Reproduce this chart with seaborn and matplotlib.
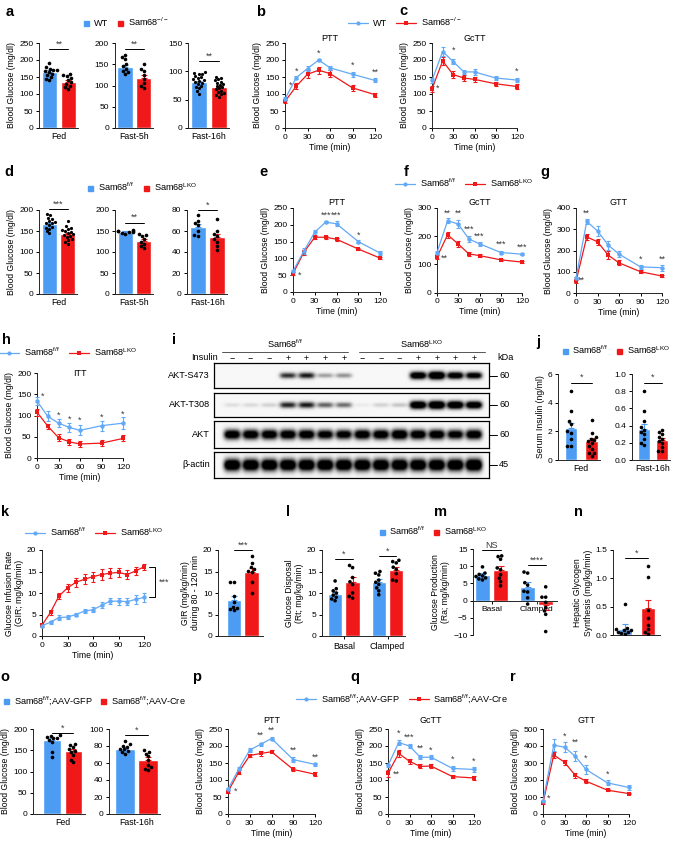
"""Sam68 glucose metabolism figure: bar, time-course and blot panels."""

import numpy as np
import pandas as pd
import matplotlib

matplotlib.use("Agg")
import matplotlib.pyplot as plt
import seaborn as sns
from matplotlib.lines import Line2D

BLUE = "#4d9cf3"
BLUE_LINE = "#62a9f7"
RED = "#f01818"
STAR = "#3a3a3a"

TIMES = [0, 15, 30, 45, 60, 90, 120]
K_TIMES = [0, 10, 20, 30, 40, 50, 60, 70, 80, 90, 100, 110, 120]

# ---- a: Sam68-/- bars
a_fed_wt = [192, 178, 175, 172, 170, 168, 165, 160, 155, 150, 145, 140]
a_fed_ko = [158, 156, 152, 148, 142, 135, 130, 125, 120, 115]
a_fed_mean, a_fed_sem = [165, 135], [6, 5]
a_f5_wt = [172, 168, 162, 150, 145, 140, 135, 132, 128]
a_f5_ko = [150, 140, 135, 125, 115, 105, 100, 95]
a_f5_mean, a_f5_sem = [143, 117], [6, 8]
a_f16_wt = [98, 97, 96, 95, 92, 90, 88, 86, 85, 83, 82, 80, 78, 75, 72, 70, 65, 60]
a_f16_ko = [90, 88, 86, 84, 82, 80, 78, 76, 74, 72, 70, 68, 66, 64, 62, 60, 58, 55]
a_f16_mean, a_f16_sem = [81, 72], [2.5, 2.2]

# ---- b, c: Sam68-/- tolerance tests
b_wt = [85, 148, 175, 200, 177, 158, 140]
b_wt_err = [5, 5, 6, 4, 5, 8, 6]
b_ko = [78, 123, 158, 170, 160, 118, 98]
b_ko_err = [5, 8, 12, 10, 10, 8, 6]
b_stars = [(8, 125, "*"), (15, 168, "*"), (45, 220, "*"), (90, 185, "*"), (120, 163, "**")]
c_wt = [140, 225, 195, 165, 165, 147, 141]
c_wt_err = [8, 12, 8, 6, 10, 6, 5]
c_ko = [115, 197, 157, 147, 143, 130, 122]
c_ko_err = [10, 12, 10, 8, 8, 6, 6]
c_stars = [(8, 118, "*"), (30, 228, "*"), (120, 166, "*")]

# ---- d: LKO bars
d_fed_wt = [190, 188, 182, 178, 175, 172, 170, 168, 165, 160, 158, 155, 150, 145]
d_fed_ko = [175, 162, 158, 155, 152, 150, 148, 145, 142, 140, 138, 135, 130, 128, 125, 120]
d_fed_mean, d_fed_sem = [166, 142], [4, 3.5]
d_f5_wt = [152, 151, 150, 149, 148, 147, 146, 144]
d_f5_ko = [142, 140, 138, 130, 125, 120, 115, 110]
d_f5_mean, d_f5_sem = [148, 126], [1.5, 4]
d_f16_wt = [75, 70, 68, 66, 60, 56, 55]
d_f16_ko = [71, 60, 57, 55, 52, 50, 46, 42]
d_f16_mean, d_f16_sem = [64, 54], [3, 3]

# ---- e, f, g: LKO tolerance tests
e_wt = [62, 122, 178, 208, 203, 150, 116]
e_wt_err = [4, 8, 8, 4, 8, 5, 5]
e_ko = [55, 118, 163, 163, 157, 128, 101]
e_ko_err = [4, 8, 5, 5, 5, 4, 3]
e_stars = [(9, 50, "*"), (45, 227, "***"), (60, 227, "***"), (90, 170, "*")]
f_wt = [142, 255, 243, 190, 173, 142, 136]
f_wt_err = [5, 8, 15, 10, 8, 5, 4]
f_ko = [126, 205, 172, 137, 131, 116, 108]
f_ko_err = [8, 10, 10, 8, 5, 4, 4]
f_stars = [(11, 122, "**"), (15, 280, "**"), (30, 280, "**"), (45, 223, "***"),
           (60, 199, "***"), (90, 170, "***"), (120, 161, "***")]
g_wt = [70, 337, 292, 225, 183, 123, 119]
g_wt_err = [6, 12, 25, 22, 15, 10, 15]
g_ko = [55, 264, 241, 178, 142, 100, 80]
g_ko_err = [6, 15, 15, 18, 12, 6, 6]
g_stars = [(8, 58, "**"), (15, 376, "**"), (90, 158, "*"), (120, 158, "**")]

# ---- h: ITT
h_wt = [134, 98, 82, 72, 65, 76, 82]
h_wt_err = [10, 12, 10, 10, 12, 12, 14]
h_ko = [108, 75, 48, 38, 33, 35, 46]
h_ko_err = [8, 6, 8, 7, 7, 7, 7]
h_stars = [(8, 146, "*"), (30, 101, "*"), (45, 91, "*"), (60, 88, "*"), (90, 96, "*"), (120, 104, "*")]

# ---- i: western blot band intensities (14 lanes)
insulin = ["−", "−", "−", "+", "+", "+", "+", "−", "−", "−", "+", "+", "+", "+"]
band_s473 = [0.0, 0.0, 0.0, 0.8, 0.9, 0.35, 0.4, 0.0, 0.0, 0.0, 1.4, 1.6, 1.3, 1.2]
band_t308 = [0.1, 0.12, 0.15, 0.85, 0.9, 0.6, 0.55, 0.05, 0.15, 0.2, 1.5, 1.6, 1.5, 1.4]
band_akt = [1.3, 1.3, 1.3, 1.3, 1.3, 1.2, 1.2, 1.3, 1.3, 1.4, 1.3, 1.3, 1.2, 1.3]
band_actin = [1.5, 1.5, 1.5, 1.5, 1.5, 1.5, 1.5, 1.5, 1.5, 1.5, 1.5, 1.5, 1.5, 1.6]
blot_labels = ["AKT-S473", "AKT-T308", "AKT", "β-actin"]
blot_kda = ["60", "60", "60", "45"]

# ---- j: serum insulin
j_fed_wt = [4.8, 3.4, 2.7, 2.5, 2.0, 1.9, 1.5, 1.0, 1.0]
j_fed_ko = [2.8, 1.9, 1.6, 1.5, 1.4, 1.3, 1.2, 1.0, 0.8, 0.5, 0.5, 0.3]
j_fed_mean, j_fed_sem = [2.2, 1.3], [0.4, 0.25]
j_f16_wt = [0.80, 0.57, 0.45, 0.38, 0.35, 0.32, 0.30, 0.25, 0.20, 0.18]
j_f16_ko = [0.35, 0.32, 0.30, 0.27, 0.25, 0.22, 0.20, 0.15, 0.10, 0.10]
j_f16_mean, j_f16_sem = [0.36, 0.23], [0.06, 0.03]

# ---- k: clamp GIR
k_wt = [2.4, 3.2, 4.3, 4.4, 5.0, 5.8, 6.1, 7.1, 8.1, 8.1, 8.0, 8.5, 9.0]
k_wt_err = [0.3, 0.3, 0.6, 0.4, 0.3, 0.5, 0.6, 0.7, 0.7, 0.8, 0.9, 1.0, 1.0]
k_ko = [2.5, 5.5, 9.3, 11.2, 12.5, 13.2, 13.8, 14.3, 14.6, 14.8, 14.3, 15.1, 16.1]
k_ko_err = [0.3, 0.5, 0.8, 0.9, 1.1, 1.2, 1.2, 1.3, 1.2, 1.0, 1.0, 0.9, 0.7]
k2_wt = [12.5, 12.5, 9.3, 8.0, 6.8, 6.4, 6.2, 6.0]
k2_ko = [18.6, 17.0, 16.0, 15.5, 15.2, 14.8, 12.6, 10.1]
k2_mean, k2_sem = [8.3, 15.0], [0.9, 0.8]

# ---- l, m: disposal / production (Basal, Clamped)
conditions = ["Basal", "Clamped"]
l_basal_wt = [12.8, 11.0, 10.5, 10.0, 9.5, 9.0, 8.6, 8.2]
l_basal_ko = [16.4, 15.9, 13.6, 12.6, 12.0, 10.0, 9.2, 8.8]
l_clamp_wt = [15.0, 14.6, 14.2, 13.0, 12.5, 12.0, 11.2, 10.5, 9.6]
l_clamp_ko = [17.6, 17.3, 17.0, 16.0, 15.5, 14.5, 13.0, 12.8]
l_mean = [9.7, 12.5, 12.5, 15.3]
l_sem = [0.6, 1.2, 0.7, 0.8]
m_basal_wt = [9.8, 8.0, 7.6, 7.2, 7.0, 6.6, 6.3, 6.0]
m_basal_ko = [13.0, 12.8, 12.0, 9.5, 9.0, 7.5, 6.5, 5.5, 4.3]
m_clamp_wt = [8.3, 8.0, 5.2, 4.5, 2.7, 2.5, 0.8, -1.0]
m_clamp_ko = [4.0, 1.0, 1.0, -0.5, -2.0, -3.0, -4.0, -9.0]
m_mean = [7.4, 9.0, 4.0, -1.3]
m_sem = [0.5, 1.2, 1.3, 1.5]

# ---- n: hepatic glycogen synthesis
n_wt = [0.55, 0.12, 0.10, 0.09, 0.08, 0.06, 0.05, 0.03, 0.02]
n_ko = [1.22, 1.02, 0.45, 0.30, 0.18, 0.10, 0.05, 0.02]
n_mean, n_sem = [0.10, 0.47], [0.09, 0.15]

# ---- o: AAV bars
o_fed_wt = [186, 184, 182, 180, 178, 175, 170, 145, 135]
o_fed_ko = [165, 162, 158, 152, 148, 145, 138, 128, 122]
o_fed_mean, o_fed_sem = [173, 148], [7, 6]
o_f16_wt = [86, 82, 80, 79, 77, 76, 74, 73, 71]
o_f16_ko = [75, 73, 71, 68, 63, 58, 55, 53, 52]
o_f16_mean, o_f16_sem = [77, 64], [1.6, 3.2]

# ---- p, q, r: AAV tolerance tests
p_wt = [73, 133, 188, 205, 222, 160, 146]
p_wt_err = [4, 5, 6, 5, 5, 8, 5]
p_ko = [66, 124, 172, 178, 183, 131, 117]
p_ko_err = [5, 5, 5, 6, 5, 5, 6]
p_stars = [(10, 68, "*"), (45, 233, "**"), (60, 245, "**"), (90, 188, "**"), (120, 167, "**")]
q_wt = [143, 210, 200, 167, 167, 134, 131]
q_wt_err = [5, 8, 6, 6, 6, 8, 8]
q_ko = [120, 178, 155, 140, 141, 110, 106]
q_ko_err = [10, 10, 8, 6, 6, 5, 5]
q_stars = [(12, 118, "**"), (15, 238, "*"), (30, 225, "***"), (45, 194, "**"),
           (60, 187, "*"), (90, 161, "*"), (120, 156, "*")]
r_wt = [75, 405, 393, 340, 262, 183, 156]
r_wt_err = [10, 35, 30, 30, 25, 15, 12]
r_ko = [65, 347, 305, 227, 193, 140, 120]
r_ko_err = [8, 20, 15, 15, 10, 6, 5]
r_stars = [(8, 90, "*"), (30, 456, "*"), (45, 421, "**"), (60, 327, "*"), (90, 234, "*")]

LBL_KO = "Sam68$^{-/-}$"
LBL_FF = "Sam68$^{\\mathrm{f/f}}$"
LBL_LKO = "Sam68$^{\\mathrm{LKO}}$"
LBL_GFP = "Sam68$^{\\mathrm{f/f}}$;AAV-GFP"
LBL_CRE = "Sam68$^{\\mathrm{f/f}}$;AAV-Cre"
BG = "Blood Glucose (mg/dl)"

sns.set_theme(style="ticks")
plt.rcParams["font.family"] = ["Liberation Sans", "DejaVu Sans"]
plt.rcParams.update({
    "mathtext.fontset": "custom",
    "mathtext.rm": "Liberation Sans",
    "mathtext.it": "Liberation Sans:italic",
    "mathtext.bf": "Liberation Sans:bold",
    "axes.linewidth": 0.7,
    "xtick.major.width": 0.7,
    "ytick.major.width": 0.7,
    "xtick.major.size": 2.5,
    "ytick.major.size": 2.5,
    "xtick.major.pad": 1.5,
    "ytick.major.pad": 1.5,
    "xtick.labelsize": 6,
    "ytick.labelsize": 6,
    "axes.labelsize": 6.2,
    "axes.labelpad": 2,
    "text.color": "black",
    "axes.labelcolor": "black",
    "xtick.color": "black",
    "ytick.color": "black",
})

W, H = 675, 842
fig = plt.figure(figsize=(W / 100, H / 100), dpi=100)


def add_ax(left, top, right, bottom):
    return fig.add_axes([left / W, 1 - bottom / H, (right - left) / W, (bottom - top) / H])


def ftext(x, y, s, **kw):
    fig.text(x / W, 1 - y / H, s, **kw)


def sig_line(ax, x0, x1, y, text):
    ax.plot([x0, x1], [y, y], color="black", lw=0.7, clip_on=False)
    ax.annotate(text, (0.5 * (x0 + x1), y), xytext=(0, 0.5), textcoords="offset points",
                ha="center", va="bottom", fontsize=6.5, color=STAR, annotation_clip=False)


def add_sem(ax, xs, means, sems, colors):
    for x, m, s, c in zip(xs, means, sems, colors):
        yerr = [[0], [s]] if m >= 0 else [[s], [0]]
        ax.errorbar([x], [m], yerr=yerr, fmt="none", ecolor=c, elinewidth=0.8,
                    capsize=2, capthick=0.8, zorder=3)


def bar_panel(ax, wt, ko, means, sems, ylim, yticks, xlabel, sig, sig_y,
              ylabel=None, xlim=(-0.55, 1.5), width=0.82, dot=2.6):
    groups = ["WT", "KO"]
    bars = pd.DataFrame({"group": groups, "mean": means})
    sns.barplot(data=bars, x="group", y="mean", hue="group", order=groups,
                palette=[BLUE, RED], saturation=1, width=width, errorbar=None,
                legend=False, ax=ax)
    add_sem(ax, [0, 1], means, sems, [BLUE, RED])
    pts = pd.DataFrame({"group": ["WT"] * len(wt) + ["KO"] * len(ko), "value": wt + ko})
    sns.swarmplot(data=pts, x="group", y="value", order=groups, color="black",
                  size=dot, ax=ax, zorder=4)
    if sig:
        sig_line(ax, 0, 1, sig_y, sig)
    ax.set_xlim(*xlim)
    ax.set_ylim(*ylim)
    ax.set_yticks(yticks)
    if xlabel:
        ax.set_xticks([0.5])
        ax.set_xticklabels([xlabel], fontsize=6.3)
    else:
        ax.set_xticks([])
    ax.tick_params(axis="x", length=0, pad=3)
    ax.set_xlabel("")
    ax.set_ylabel(ylabel or "")
    sns.despine(ax=ax)


def grouped_panel(ax, groups_pts, means, sems, ylim, yticks, ylabel, sigs):
    genos = ["WT", "KO"]
    rows = []
    for ci, cond in enumerate(conditions):
        for gi, geno in enumerate(genos):
            rows.append({"cond": cond, "geno": geno, "mean": means[ci * 2 + gi]})
    bars = pd.DataFrame(rows)
    sns.barplot(data=bars, x="cond", y="mean", hue="geno", order=conditions, hue_order=genos,
                palette=[BLUE, RED], saturation=1, width=0.8, gap=0.18, errorbar=None,
                legend=False, ax=ax)
    xs = [-0.2, 0.2, 0.8, 1.2]
    add_sem(ax, xs, means, sems, [BLUE, RED, BLUE, RED])
    prow = []
    for (cond, geno), vals in zip([(c, g) for c in conditions for g in genos], groups_pts):
        prow += [{"cond": cond, "geno": geno, "value": v} for v in vals]
    pts = pd.DataFrame(prow)
    sns.swarmplot(data=pts, x="cond", y="value", hue="geno", order=conditions, hue_order=genos,
                  dodge=True, palette={"WT": "black", "KO": "black"}, size=2.6,
                  legend=False, ax=ax, zorder=4)
    for ci, (text, y) in enumerate(sigs):
        sig_line(ax, ci - 0.2, ci + 0.2, y, text)
    ax.set_ylim(*ylim)
    ax.set_yticks(yticks)
    ax.set_xlabel("")
    ax.set_ylabel(ylabel)
    ax.set_xticks([0, 1])
    ax.set_xticklabels(conditions, fontsize=6.3)
    sns.despine(ax=ax)


def time_panel(ax, times, wt, wt_err, ko, ko_err, ylim, yticks, title, stars,
               title_y=1.07, ylabel=BG, xticks=(0, 30, 60, 90, 120)):
    for vals, errs, color, marker in ((ko, ko_err, RED, "s"), (wt, wt_err, BLUE_LINE, "o")):
        ax.errorbar(times, vals, yerr=errs, fmt="none", ecolor=color, elinewidth=0.8,
                    capsize=1.6, capthick=0.8, clip_on=False, zorder=3)
        sns.lineplot(x=times, y=vals, color=color, marker=marker, markersize=3.2,
                     markeredgewidth=0, linewidth=0.9, ax=ax, clip_on=False, zorder=4)
    for t, y, s in stars:
        ax.text(t, y, s, ha="center", va="center", fontsize=6.5, color=STAR)
    if title:
        ax.text(0.5, title_y, title, transform=ax.transAxes, ha="center", va="center", fontsize=6.5)
    ax.set_xlim(times[0], times[-1])
    ax.set_ylim(*ylim)
    ax.set_yticks(yticks)
    ax.set_xticks(list(xticks))
    ax.set_xlabel("Time (min)", labelpad=1.5)
    ax.set_ylabel(ylabel)
    sns.despine(ax=ax)


def square_legend(x, y, labels, spacing=1.0):
    handles = [Line2D([], [], marker="s", linestyle="none", color=c, markersize=3.6) for c in (BLUE, RED)]
    fig.legend(handles, labels, loc="center", bbox_to_anchor=(x / W, 1 - y / H), ncol=2,
               frameon=False, fontsize=6.6, handlelength=0.7, handletextpad=0.5,
               columnspacing=spacing, borderpad=0, borderaxespad=0)


def line_legend(x, y, labels, spacing=1.0):
    handles = [Line2D([], [], marker="o", color=BLUE_LINE, markersize=3, lw=0.9, markeredgewidth=0),
               Line2D([], [], marker="s", color=RED, markersize=3, lw=0.9, markeredgewidth=0)]
    fig.legend(handles, labels, loc="center", bbox_to_anchor=(x / W, 1 - y / H), ncol=2,
               frameon=False, fontsize=6.6, handlelength=2.2, handletextpad=0.5,
               columnspacing=spacing, borderpad=0, borderaxespad=0)


def blot_row(ax, amps, thick):
    xs = np.linspace(-0.97, 13.8, 700)
    ys = np.linspace(-1, 1, 90)
    X, Y = np.meshgrid(xs, ys)
    img = np.full(X.shape, 0.03)
    for i, a in enumerate(amps):
        th = thick * (0.55 + 0.35 * min(a, 1.6))
        img += a * np.exp(-((X - i) / 0.44) ** 4) * np.exp(-(Y / th) ** 2)
    ax.imshow(np.clip(img, 0, 1), cmap="gray_r", vmin=0, vmax=1, aspect="auto",
              extent=(-0.97, 13.8, -1, 1), interpolation="bilinear")
    ax.set_xticks([])
    ax.set_yticks([])
    for sp in ax.spines.values():
        sp.set_visible(True)
        sp.set_linewidth(0.9)
        sp.set_color("black")


# ---------------- Row 1
ax = add_ax(39, 43, 78, 128)
bar_panel(ax, a_fed_wt, a_fed_ko, a_fed_mean, a_fed_sem, (0, 250), range(0, 251, 50), "Fed", "**", 232, ylabel=BG)
ax = add_ax(114.5, 43, 153, 128)
bar_panel(ax, a_f5_wt, a_f5_ko, a_f5_mean, a_f5_sem, (0, 200), range(0, 201, 50), "Fast-5h", "**", 186)
ax = add_ax(188, 43, 229, 128)
bar_panel(ax, a_f16_wt, a_f16_ko, a_f16_mean, a_f16_sem, (0, 150), range(0, 151, 50), "Fast-16h", "**", 118, dot=2.3)
ax = add_ax(285, 43, 375, 128)
time_panel(ax, TIMES, b_wt, b_wt_err, b_ko, b_ko_err, (0, 250), range(0, 251, 50), "PTT", b_stars, title_y=1.05)
ax = add_ax(432, 43, 517, 128)
time_panel(ax, TIMES, c_wt, c_wt_err, c_ko, c_ko_err, (0, 250), range(0, 251, 50), "GcTT", c_stars, title_y=1.05)
square_legend(126, 22, ["WT", LBL_KO])
line_legend(405, 22, ["WT", LBL_KO])

# ---------------- Row 2
ax = add_ax(39, 210, 77, 294)
bar_panel(ax, d_fed_wt, d_fed_ko, d_fed_mean, d_fed_sem, (0, 200), range(0, 201, 50), "Fed", "***", 202, ylabel=BG, dot=2.3)
ax = add_ax(115, 210, 153, 294)
bar_panel(ax, d_f5_wt, d_f5_ko, d_f5_mean, d_f5_sem, (0, 200), range(0, 201, 50), "Fast-5h", "**", 170)
ax = add_ax(187, 210, 227, 294)
bar_panel(ax, d_f16_wt, d_f16_ko, d_f16_mean, d_f16_sem, (0, 80), range(0, 81, 20), "Fast-16h", "*", 80)
ax = add_ax(293, 208, 380, 292)
time_panel(ax, TIMES, e_wt, e_wt_err, e_ko, e_ko_err, (0, 250), range(0, 251, 50), "PTT", e_stars)
ax = add_ax(437, 208, 522, 292.5)
time_panel(ax, TIMES, f_wt, f_wt_err, f_ko, f_ko_err, (0, 300), range(0, 301, 100), "GcTT", f_stars)
ax = add_ax(576, 208, 662, 293)
time_panel(ax, TIMES, g_wt, g_wt_err, g_ko, g_ko_err, (0, 400), range(0, 401, 100), "GTT", g_stars)
square_legend(142, 187, [LBL_FF, LBL_LKO])
line_legend(464, 183, [LBL_FF, LBL_LKO])

# ---------------- Row 3
ax = add_ax(37, 373, 123, 458)
time_panel(ax, TIMES, h_wt, h_wt_err, h_ko, h_ko_err, (0, 200), range(0, 201, 50), "ITT", h_stars, title_y=1.0)
line_legend(68, 352, [LBL_FF, LBL_LKO])

blot_boxes = [(363, 388), (393, 417), (421, 448), (452, 478)]
blot_data = [band_s473, band_t308, band_akt, band_actin]
blot_thick = [0.28, 0.3, 0.36, 0.42]
for (top, bot), amps, th, name, kda in zip(blot_boxes, blot_data, blot_thick, blot_labels, blot_kda):
    bax = add_ax(214, top, 489, bot)
    blot_row(bax, amps, th)
    mid = 0.5 * (top + bot)
    ftext(210, mid, name, ha="right", va="center", fontsize=6.6)
    fig.add_artist(Line2D([489 / W, 497 / W], [1 - mid / H] * 2, color="black", lw=0.7))
    ftext(499, mid, kda, ha="left", va="center", fontsize=6.6)
lane_x = np.linspace(232, 474, 14)
for lx, sign in zip(lane_x, insulin):
    ftext(lx, 358, sign, ha="center", va="center", fontsize=6.5)
ftext(218, 358, "Insulin", ha="right", va="center", fontsize=6.6)
ftext(497, 357, "kDa", ha="left", va="center", fontsize=6.6)
ftext(285, 344, LBL_FF, ha="center", va="center", fontsize=6.6)
ftext(422, 344, LBL_LKO, ha="center", va="center", fontsize=6.6)
fig.add_artist(Line2D([222 / W, 348 / W], [1 - 352 / H] * 2, color="#555555", lw=0.7))
fig.add_artist(Line2D([359 / W, 485 / W], [1 - 352 / H] * 2, color="#555555", lw=0.7))

ax = add_ax(558, 374, 600, 460)
bar_panel(ax, j_fed_wt, j_fed_ko, j_fed_mean, j_fed_sem, (0, 6), range(0, 7, 2), "Fed", "*", 5.4,
          ylabel="Serum Insulin (ng/ml)", xlim=(-0.62, 1.4), width=0.6)
ax = add_ax(632, 374, 670, 460)
bar_panel(ax, j_f16_wt, j_f16_ko, j_f16_mean, j_f16_sem, (0, 1.0), np.arange(0, 1.01, 0.2), "Fast-16h", "*", 0.9,
          xlim=(-0.67, 1.44), width=0.62)
ax.set_yticklabels([f"{v:.1f}" for v in np.arange(0, 1.01, 0.2)])
square_legend(616, 350, [LBL_FF, LBL_LKO], spacing=0.8)

# ---------------- Row 4
ax = add_ax(42, 550, 144, 636)
time_panel(ax, K_TIMES, k_wt, k_wt_err, k_ko, k_ko_err, (0, 20), range(0, 21, 5), None, [],
           ylabel="Glucose Infusion Rate\n(GIR; mg/kg/min)")
ax.plot([126, 133, 133, 126], [16.1, 16.1, 9.0, 9.0], color="black", lw=0.7, clip_on=False)
ax.text(137, 12.6, "***", ha="left", va="center", fontsize=6.5, color=STAR)
line_legend(94, 532, [LBL_FF, LBL_LKO])

ax = add_ax(218, 550, 263, 636)
bar_panel(ax, k2_wt, k2_ko, k2_mean, k2_sem, (0, 20), range(0, 21, 5), None, "***", 20,
          ylabel="GIR (mg/kg/min)\nduring 80 - 120 min", xlim=(-0.9, 1.65), width=0.8)

ax = add_ax(322, 550, 405, 636)
grouped_panel(ax, [l_basal_wt, l_basal_ko, l_clamp_wt, l_clamp_ko], l_mean, l_sem, (0, 20), range(0, 21, 5),
              "Glucose Disposal\n(Rt; mg/kg/min)", [("*", 17.8), ("*", 18.6)])
ax.set_xlim(-0.5, 1.4)

ax = add_ax(473, 549, 557, 635)
grouped_panel(ax, [m_basal_wt, m_basal_ko, m_clamp_wt, m_clamp_ko], m_mean, m_sem, (-10, 15), range(-10, 16, 5),
              "Glucose Production\n(Ra; mg/kg/min)", [("NS", 14.6), ("****", 10.3)])
ax.set_xlim(-0.41, 1.45)
ax.spines["bottom"].set_position(("data", 0))
square_legend(433, 531, [LBL_FF, LBL_LKO], spacing=0.8)

ax = add_ax(613, 550, 660, 635)
bar_panel(ax, n_wt, n_ko, n_mean, n_sem, (0, 1.5), [0, 0.5, 1.0, 1.5], None, "*", 1.36,
          ylabel="Hepatic Glycogen\nSynthesis (mg/kg/min)", xlim=(-0.52, 1.5), width=0.6)
ax.set_yticklabels(["0.0", "0.5", "1.0", "1.5"])

# ---------------- Row 5
ax = add_ax(33, 729, 85, 814)
bar_panel(ax, o_fed_wt, o_fed_ko, o_fed_mean, o_fed_sem, (0, 200), range(0, 201, 50), "Fed", "*", 190,
          ylabel=BG, xlim=(-0.9, 1.55))
ax = add_ax(109, 729, 160, 814)
bar_panel(ax, o_f16_wt, o_f16_ko, o_f16_mean, o_f16_sem, (0, 100), range(0, 101, 20), "Fast-16h", "*", 93,
          xlim=(-0.68, 1.5), width=0.85)
square_legend(94, 701, [LBL_GFP, LBL_CRE], spacing=0.8)
ax = add_ax(228, 729, 315, 814)
time_panel(ax, TIMES, p_wt, p_wt_err, p_ko, p_ko_err, (0, 250), range(0, 251, 50), "PTT", p_stars, title_y=1.1)
ax = add_ax(388, 729, 474, 814)
time_panel(ax, TIMES, q_wt, q_wt_err, q_ko, q_ko_err, (0, 250), range(0, 251, 50), "GcTT", q_stars, title_y=1.1)
ax = add_ax(543, 729, 629, 814)
time_panel(ax, TIMES, r_wt, r_wt_err, r_ko, r_ko_err, (0, 500), range(0, 501, 100), "GTT", r_stars, title_y=1.1)
line_legend(402, 699, [LBL_GFP, LBL_CRE])

# ---------------- Panel letters
letters = {
    "a": (10, 12), "b": (261, 12), "c": (403, 11), "d": (9, 172), "e": (264, 172),
    "f": (406, 172), "g": (545, 172), "h": (6, 340), "i": (174, 340), "j": (538, 342),
    "k": (5, 512), "l": (288, 512), "m": (440, 512), "n": (578, 512), "o": (5, 677),
    "p": (197, 677), "q": (355, 677), "r": (513, 677),
}
for letter, (x, y) in letters.items():
    ftext(x, y, letter, ha="center", va="center", fontsize=10.5, fontweight="bold")

fig.savefig("out.png", dpi=100)
